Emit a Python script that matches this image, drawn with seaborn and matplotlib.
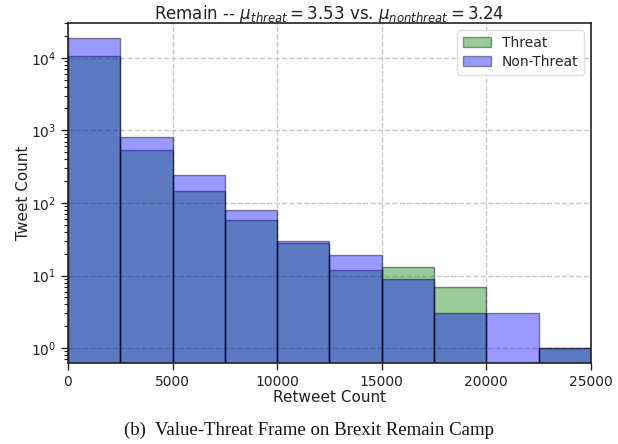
import numpy as np
import pandas as pd
import matplotlib
matplotlib.use("Agg")
import matplotlib.pyplot as plt
import seaborn as sns
from matplotlib.patches import Patch

# Histogram bins (retweet count) and per-bin tweet counts
bin_edges = [0, 2500, 5000, 7500, 10000, 12500, 15000, 17500, 20000, 22500, 25000]
threat_counts = [10400, 530, 146, 58, 28, 12, 13, 7, 0, 1]
nonthreat_counts = [18900, 810, 243, 80, 30, 19, 9, 3, 3, 1]
series_labels = ["Threat", "Non-Threat"]
x_ticks = [0, 5000, 10000, 15000, 20000, 25000]

left_edges = bin_edges[:-1]
df_threat = pd.DataFrame({"retweets": left_edges, "tweets": threat_counts})
df_nonthreat = pd.DataFrame({"retweets": left_edges, "tweets": nonthreat_counts})

sns.set_theme(style="whitegrid")
plt.rcParams["font.family"] = ["DejaVu Sans"]

fig = plt.figure(figsize=(6.18, 4.44), dpi=100)
ax = fig.add_axes([0.110, 0.182, 0.846, 0.766])

common = dict(x="retweets", weights="tweets", bins=bin_edges, stat="count",
              element="bars", fill=True, alpha=0.4, edgecolor=(0, 0, 0, 0.45),
              linewidth=1.0, ax=ax)
sns.histplot(data=df_threat, color="#008000", **common)
sns.histplot(data=df_nonthreat, color="#0000ff", **common)

ax.set_yscale("log")
ax.set_ylim(0.62, 30000)
ax.set_xlim(0, 25000)
ax.set_xticks(x_ticks)

ax.grid(True, which="major", linestyle="--", color="#c8c8c8", linewidth=1.0)
ax.grid(False, which="minor")
for s in ax.spines.values():
    s.set_color("#222222")
    s.set_linewidth(1.2)
ax.tick_params(axis="both", which="major", direction="out", length=5, width=1,
               color="#222222", labelsize=10, labelcolor="#222222", left=True, bottom=True)
ax.tick_params(axis="y", which="minor", direction="out", length=3, width=0.8,
               color="#222222", left=True)

ax.set_xlabel("Retweet Count", fontsize=11, color="#222222", labelpad=1)
ax.set_ylabel("Tweet Count", fontsize=11, color="#222222", labelpad=0)
ax.set_title(r"Remain -- $\mu_{threat} = 3.53$ vs. $\mu_{nonthreat} = 3.24$",
             fontsize=12, color="#222222", pad=3)

handles = [Patch(facecolor="#008000", alpha=0.4, edgecolor="black"),
           Patch(facecolor="#0000ff", alpha=0.4, edgecolor="black")]
ax.legend(handles, series_labels, loc="upper right", fontsize=10,
          frameon=True, framealpha=0.9, edgecolor="#dddddd",
          borderaxespad=0.5, labelspacing=0.4)

fig.text(0.50, 0.030, "(b)  Value-Threat Frame on Brexit Remain Camp",
         ha="center", va="center", fontsize=13.5, family="Liberation Serif", color="#111111")

fig.savefig("out.png", dpi=100, facecolor="white")
